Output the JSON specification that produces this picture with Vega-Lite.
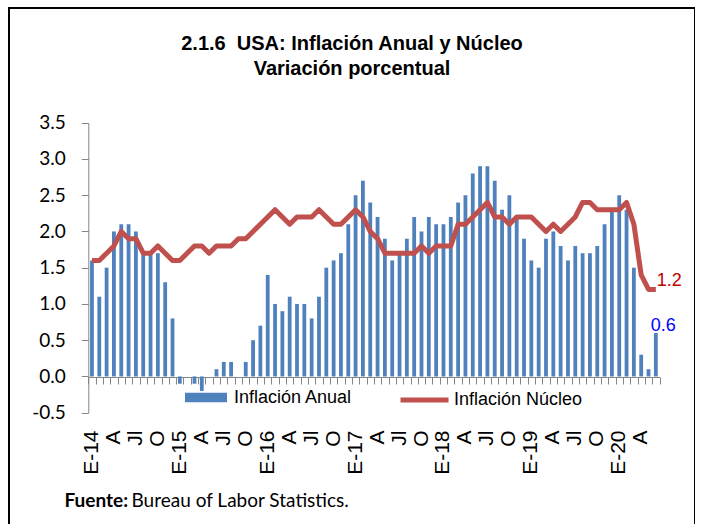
{
  "$schema": "https://vega.github.io/schema/vega-lite/v6.json",
  "width": 686,
  "height": 520,
  "autosize": "none",
  "padding": {"left": 9, "top": 8, "right": 0, "bottom": 0},
  "background": "white",
  "config": {
    "view": {"stroke": "black", "strokeWidth": 2},
    "legend": {"labelFont": "Liberation Sans", "labelFontSize": 18, "labelColor": "black"}
  },
  "title": {
    "text": ["2.1.6\u00a0 USA: Inflación Anual y Núcleo", "Variación porcentual"],
    "anchor": "middle",
    "font": "Liberation Sans",
    "fontSize": 20,
    "fontWeight": "bold",
    "color": "black",
    "lineHeight": 25,
    "baseline": "top",
    "offset": -71
  },
  "data": {
    "values": [
      {"m": "2014-01", "a": 1.6, "n": 1.6}, {"m": "2014-02", "a": 1.1, "n": 1.6}, {"m": "2014-03", "a": 1.5, "n": 1.7},
      {"m": "2014-04", "a": 2.0, "n": 1.8}, {"m": "2014-05", "a": 2.1, "n": 2.0}, {"m": "2014-06", "a": 2.1, "n": 1.9},
      {"m": "2014-07", "a": 2.0, "n": 1.9}, {"m": "2014-08", "a": 1.7, "n": 1.7}, {"m": "2014-09", "a": 1.7, "n": 1.7},
      {"m": "2014-10", "a": 1.7, "n": 1.8}, {"m": "2014-11", "a": 1.3, "n": 1.7}, {"m": "2014-12", "a": 0.8, "n": 1.6},
      {"m": "2015-01", "a": -0.1, "n": 1.6}, {"m": "2015-02", "a": 0.0, "n": 1.7}, {"m": "2015-03", "a": -0.1, "n": 1.8},
      {"m": "2015-04", "a": -0.2, "n": 1.8}, {"m": "2015-05", "a": 0.0, "n": 1.7}, {"m": "2015-06", "a": 0.1, "n": 1.8},
      {"m": "2015-07", "a": 0.2, "n": 1.8}, {"m": "2015-08", "a": 0.2, "n": 1.8}, {"m": "2015-09", "a": 0.0, "n": 1.9},
      {"m": "2015-10", "a": 0.2, "n": 1.9}, {"m": "2015-11", "a": 0.5, "n": 2.0}, {"m": "2015-12", "a": 0.7, "n": 2.1},
      {"m": "2016-01", "a": 1.4, "n": 2.2}, {"m": "2016-02", "a": 1.0, "n": 2.3}, {"m": "2016-03", "a": 0.9, "n": 2.2},
      {"m": "2016-04", "a": 1.1, "n": 2.1}, {"m": "2016-05", "a": 1.0, "n": 2.2}, {"m": "2016-06", "a": 1.0, "n": 2.2},
      {"m": "2016-07", "a": 0.8, "n": 2.2}, {"m": "2016-08", "a": 1.1, "n": 2.3}, {"m": "2016-09", "a": 1.5, "n": 2.2},
      {"m": "2016-10", "a": 1.6, "n": 2.1}, {"m": "2016-11", "a": 1.7, "n": 2.1}, {"m": "2016-12", "a": 2.1, "n": 2.2},
      {"m": "2017-01", "a": 2.5, "n": 2.3}, {"m": "2017-02", "a": 2.7, "n": 2.2}, {"m": "2017-03", "a": 2.4, "n": 2.0},
      {"m": "2017-04", "a": 2.2, "n": 1.9}, {"m": "2017-05", "a": 1.9, "n": 1.7}, {"m": "2017-06", "a": 1.6, "n": 1.7},
      {"m": "2017-07", "a": 1.7, "n": 1.7}, {"m": "2017-08", "a": 1.9, "n": 1.7}, {"m": "2017-09", "a": 2.2, "n": 1.7},
      {"m": "2017-10", "a": 2.0, "n": 1.8}, {"m": "2017-11", "a": 2.2, "n": 1.7}, {"m": "2017-12", "a": 2.1, "n": 1.8},
      {"m": "2018-01", "a": 2.1, "n": 1.8}, {"m": "2018-02", "a": 2.2, "n": 1.8}, {"m": "2018-03", "a": 2.4, "n": 2.1},
      {"m": "2018-04", "a": 2.5, "n": 2.1}, {"m": "2018-05", "a": 2.8, "n": 2.2}, {"m": "2018-06", "a": 2.9, "n": 2.3},
      {"m": "2018-07", "a": 2.9, "n": 2.4}, {"m": "2018-08", "a": 2.7, "n": 2.2}, {"m": "2018-09", "a": 2.3, "n": 2.2},
      {"m": "2018-10", "a": 2.5, "n": 2.1}, {"m": "2018-11", "a": 2.2, "n": 2.2}, {"m": "2018-12", "a": 1.9, "n": 2.2},
      {"m": "2019-01", "a": 1.6, "n": 2.2}, {"m": "2019-02", "a": 1.5, "n": 2.1}, {"m": "2019-03", "a": 1.9, "n": 2.0},
      {"m": "2019-04", "a": 2.0, "n": 2.1}, {"m": "2019-05", "a": 1.8, "n": 2.0}, {"m": "2019-06", "a": 1.6, "n": 2.1},
      {"m": "2019-07", "a": 1.8, "n": 2.2}, {"m": "2019-08", "a": 1.7, "n": 2.4}, {"m": "2019-09", "a": 1.7, "n": 2.4},
      {"m": "2019-10", "a": 1.8, "n": 2.3}, {"m": "2019-11", "a": 2.1, "n": 2.3}, {"m": "2019-12", "a": 2.3, "n": 2.3},
      {"m": "2020-01", "a": 2.5, "n": 2.3}, {"m": "2020-02", "a": 2.3, "n": 2.4}, {"m": "2020-03", "a": 1.5, "n": 2.1},
      {"m": "2020-04", "a": 0.3, "n": 1.4}, {"m": "2020-05", "a": 0.1, "n": 1.2}, {"m": "2020-06", "a": 0.6, "n": 1.2}
    ]
  },
  "layer": [
    {
      "mark": {"type": "bar", "width": {"band": 0.52}},
      "encoding": {
        "x": {
          "field": "m", "type": "ordinal", "sort": "ascending",
          "scale": {"type": "band", "range": [79.3, 650.5], "paddingInner": 0, "paddingOuter": 0},
          "axis": {
            "orient": "bottom", "offset": -100, "domain": false, "ticks": false, "tickSize": 0,
            "labelAngle": -90, "labelAlign": "right", "labelBaseline": "middle", "labelPadding": 2,
            "labelFont": "Liberation Sans", "labelFontSize": 21, "labelColor": "black", "labelOverlap": false,
            "labelExpr": "substring(datum.value,5,7)=='01' ? 'E-'+substring(datum.value,2,4) : substring(datum.value,5,7)=='04' ? 'A' : substring(datum.value,5,7)=='07' ? 'Jl' : substring(datum.value,5,7)=='10' ? 'O' : ''",
            "title": "Fuente:", "titleX": 55, "titleY": 72, "titleAlign": "left", "titleAnchor": null,
            "titleBaseline": "middle", "titleFont": "Lato", "titleFontSize": 19, "titleFontWeight": "bold", "titleColor": "black"
          }
        },
        "y": {
          "field": "a", "type": "quantitative",
          "scale": {"domain": [-0.5, 3.5], "range": [404.7, 114.7], "nice": false, "zero": false},
          "axis": {
            "orient": "left", "offset": -79.3, "values": [-0.5, 0, 0.5, 1, 1.5, 2, 2.5, 3, 3.5],
            "labelExpr": "replace(format(datum.value, '.1f'), '\u2212', '-')",
            "grid": false, "domainColor": "#868686", "tickColor": "#868686", "tickSize": 7,
            "labelFont": "Lato", "labelFontSize": 19, "labelColor": "black", "labelPadding": 16, "title": null
          }
        },
        "color": {
          "datum": "Inflación Anual", "type": "nominal",
          "scale": {"range": ["#4F81BD"]},
          "legend": {
            "orient": "none", "legendX": 176, "legendY": 368.5, "title": null, "labelOffset": 7,
            "symbolType": "M-1,-0.224H1V0.224H-1Z", "symbolSize": 1764, "symbolStrokeWidth": 0
          }
        }
      }
    },
    {
      "mark": {"type": "line", "strokeWidth": 5, "strokeJoin": "round", "strokeCap": "butt"},
      "encoding": {
        "x": {
          "field": "m", "type": "ordinal", "sort": "ascending",
          "scale": {"type": "band", "range": [79.3, 650.5], "paddingInner": 0, "paddingOuter": 0},
          "axis": {
            "orient": "bottom", "offset": -151, "labels": false, "domain": true, "domainColor": "#868686",
            "ticks": true, "tickColor": "#868686", "tickSize": 7, "tickBand": "extent", "grid": false,
            "title": "Bureau of Labor Statistics.", "titleX": 122, "titleY": 123, "titleAlign": "left", "titleAnchor": null,
            "titleBaseline": "middle", "titleFont": "Lato", "titleFontSize": 19, "titleFontWeight": "normal", "titleColor": "black"
          }
        },
        "y": {"field": "n", "type": "quantitative"},
        "stroke": {
          "datum": "Inflación Núcleo", "type": "nominal",
          "scale": {"range": ["#C0504D"]},
          "legend": {
            "orient": "none", "legendX": 389, "legendY": 365.5, "title": null, "labelOffset": 3,
            "symbolType": "stroke", "symbolSize": 2304, "symbolStrokeWidth": 5
          }
        }
      }
    },
    {
      "transform": [{"filter": "datum.m == '2020-06'"}],
      "mark": {"type": "text", "align": "left", "baseline": "alphabetic", "dx": 1, "dy": -3, "font": "Liberation Sans", "fontSize": 18, "color": "#C00000"},
      "encoding": {
        "x": {"field": "m", "type": "ordinal", "sort": "ascending", "axis": null},
        "y": {"field": "n", "type": "quantitative"},
        "text": {"field": "n", "type": "quantitative", "format": ".1f"}
      }
    },
    {
      "transform": [{"filter": "datum.m == '2020-06'"}],
      "mark": {"type": "text", "align": "left", "baseline": "alphabetic", "dx": -5, "dy": -2, "font": "Liberation Sans", "fontSize": 18, "color": "#0000FF"},
      "encoding": {
        "x": {"field": "m", "type": "ordinal", "sort": "ascending", "axis": null},
        "y": {"field": "a", "type": "quantitative"},
        "text": {"field": "a", "type": "quantitative", "format": ".1f"}
      }
    }
  ],
  "resolve": {"axis": {"x": "independent"}}
}
